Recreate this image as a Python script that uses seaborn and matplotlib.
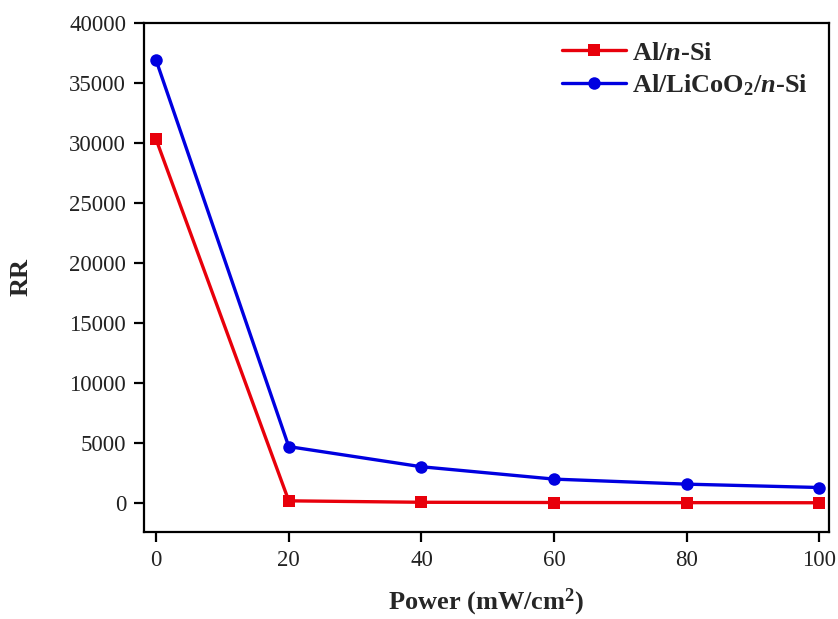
import numpy as np
import pandas as pd
import matplotlib
matplotlib.use("Agg")
import matplotlib.pyplot as plt
import seaborn as sns

# Light intensity (mW/cm^2) and rectification ratio for the two diodes
power = [0, 20, 40, 60, 80, 100]
rr_al_nsi = [30300, 170, 50, 30, 20, 10]
rr_al_licoo2_nsi = [36900, 4690, 3010, 1980, 1560, 1280]

label_al_nsi = r"Al/$\it{n}$-Si"
label_al_licoo2 = r"Al/LiCoO$_2$/$\it{n}$-Si"

sns.set_theme(style="ticks")
plt.rcParams["font.family"] = ["Liberation Serif", "DejaVu Serif"]
plt.rcParams["mathtext.fontset"] = "custom"
plt.rcParams["mathtext.rm"] = "Liberation Serif:bold"
plt.rcParams["mathtext.it"] = "Liberation Serif:bold:italic"
plt.rcParams["mathtext.bf"] = "Liberation Serif:bold"

df = pd.DataFrame({
    "Power": power * 2,
    "RR": rr_al_nsi + rr_al_licoo2_nsi,
    "Device": [label_al_nsi] * len(power) + [label_al_licoo2] * len(power),
})

fig = plt.figure(figsize=(8.38, 6.19), dpi=100)
ax = fig.add_axes([0.172, 0.1405, 0.817, 0.8225])

sns.lineplot(data=df, x="Power", y="RR", hue="Device", style="Device",
             palette={label_al_nsi: "#e8000b", label_al_licoo2: "#0000e0"},
             markers={label_al_nsi: "s", label_al_licoo2: "o"},
             dashes=False, linewidth=2.4, markersize=9, markeredgewidth=0,
             ax=ax)

ax.set_xlim(-1.8, 101.4)
ax.set_ylim(-2430, 40000)
ax.set_xticks([0, 20, 40, 60, 80, 100])
ax.set_yticks(np.arange(0, 40001, 5000))

for s in ax.spines.values():
    s.set_linewidth(1.6)
    s.set_color("black")
ax.tick_params(axis="both", direction="out", length=7, width=1.6,
               labelsize=16.5, colors="black", labelcolor="#222222", pad=6)

ax.set_xlabel("Power (mW/cm$^2$)", fontsize=19, fontweight="bold")
ax.set_ylabel("RR", fontsize=19, fontweight="bold")
ax.xaxis.set_label_coords(0.5, -0.108)
ax.yaxis.set_label_coords(-0.163, 0.5)

handles, labels = ax.get_legend_handles_labels()
leg = ax.legend(handles, labels, loc="upper right",
                bbox_to_anchor=(0.985, 0.985),
                frameon=False, borderaxespad=0, handlelength=2.4,
                handletextpad=0.25, borderpad=0.4, labelspacing=0.3,
                prop={"weight": "bold", "size": 19})
for t in leg.get_texts():
    t.set_fontweight("bold")

fig.savefig("out.png", dpi=100)
